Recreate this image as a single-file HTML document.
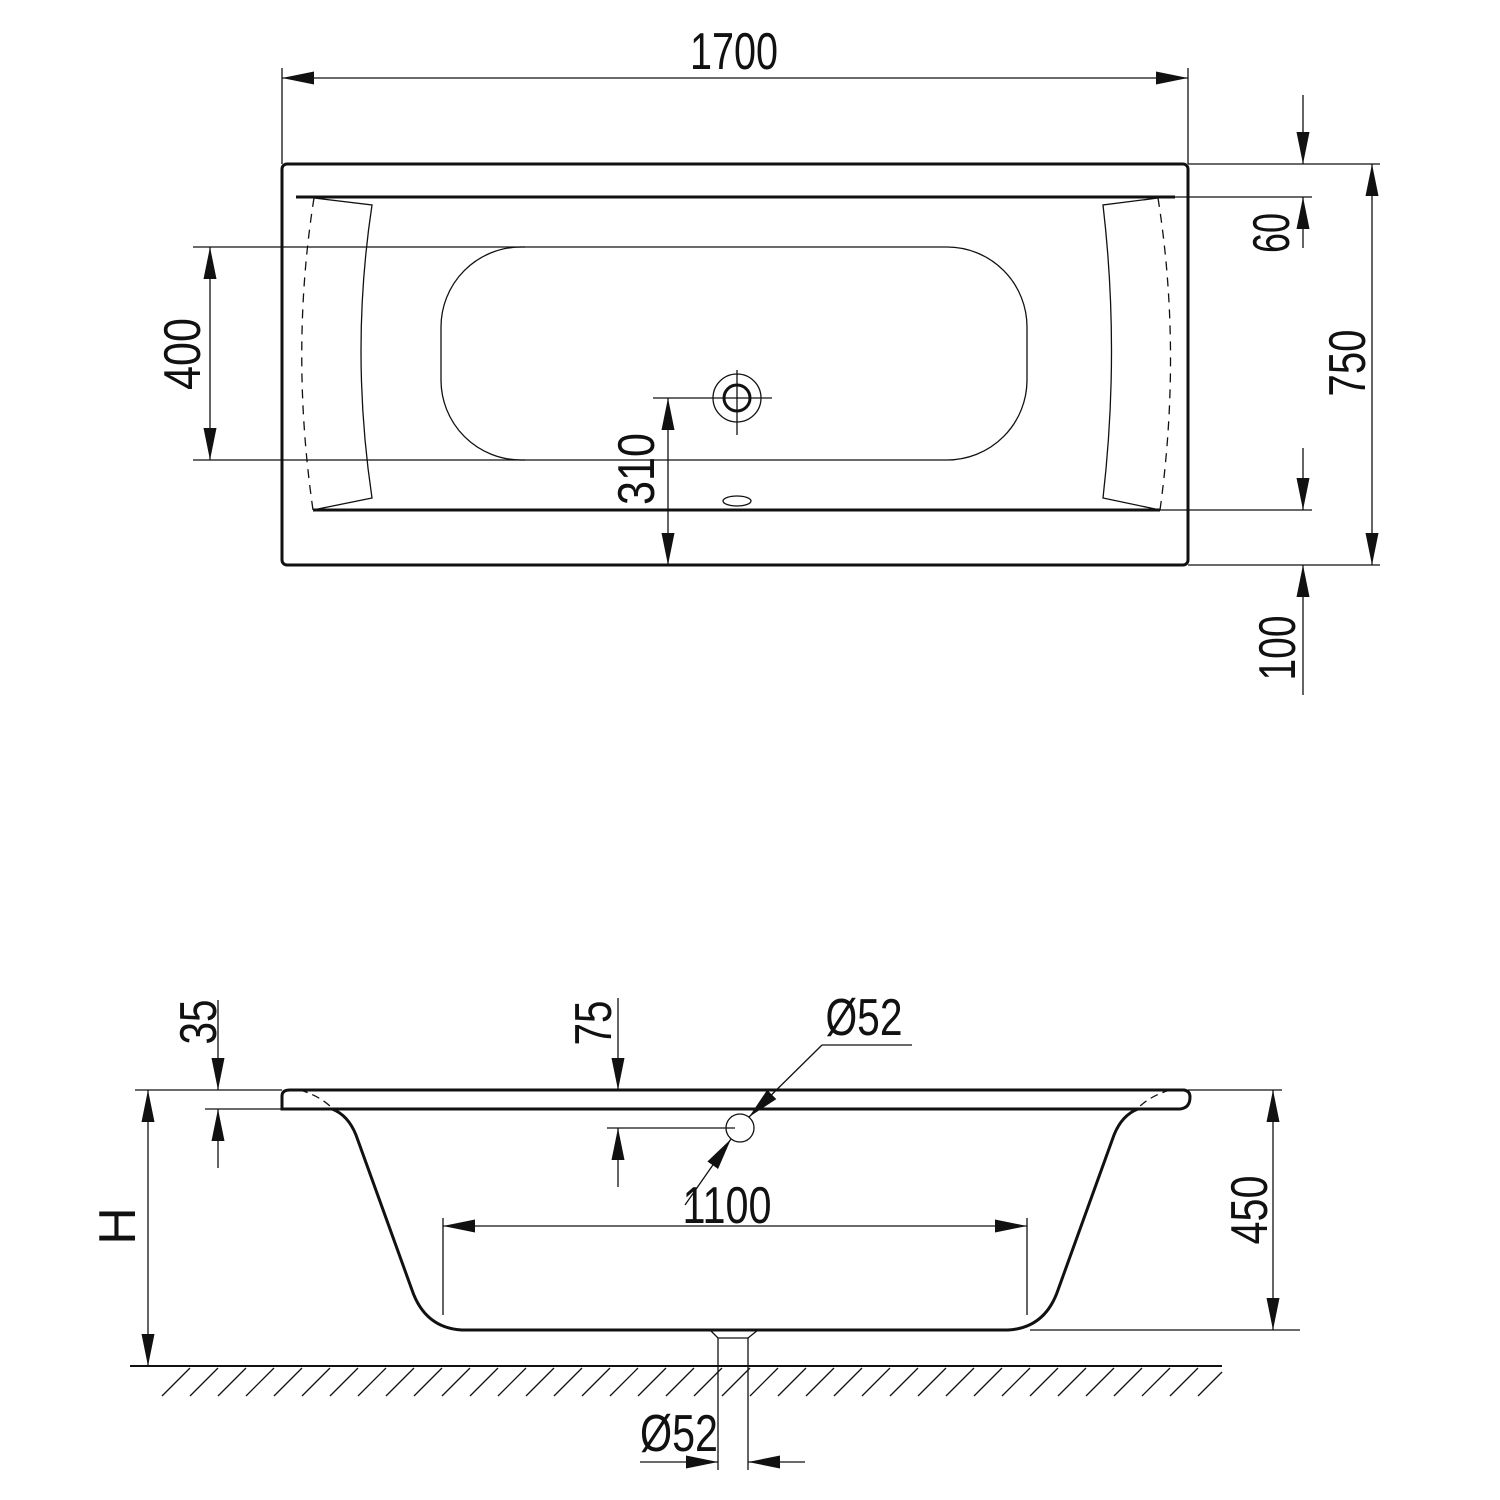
<!DOCTYPE html>
<html><head><meta charset="utf-8"><style>
html,body{margin:0;padding:0;background:#fff;}
svg{display:block}
text{font-family:"Liberation Sans",sans-serif;font-size:52px;fill:#111;text-anchor:middle;dominant-baseline:central}
</style></head><body>
<svg width="1500" height="1500" viewBox="0 0 1500 1500" xmlns="http://www.w3.org/2000/svg">
<defs>
<marker id="a" markerUnits="userSpaceOnUse" markerWidth="34" markerHeight="14" refX="32" refY="6.5" orient="auto" viewBox="0 0 34 13">
<path d="M0,0 L32,6.5 L0,13 Z" fill="#111"/></marker>
</defs>
<g stroke="#111" fill="none" stroke-width="1.3">
<rect x="282" y="164" width="906" height="401" rx="5" stroke-width="3"/>
<line x1="296" y1="197" x2="1175" y2="197" stroke-width="3"/>
<line x1="313" y1="510" x2="1160" y2="510" stroke-width="3"/>
<rect x="441" y="247" width="586" height="213" rx="80"/>
<circle cx="737" cy="398" r="24"/>
<circle cx="737" cy="398" r="13" stroke-width="3"/>
<line x1="737" y1="370" x2="737" y2="435"/>
<line x1="653" y1="398" x2="772" y2="398"/>
<ellipse cx="737" cy="501" rx="14" ry="5"/>
<path d="M314,198 L372,205 Q350,350 372,498 L313,510"/>
<path d="M314,198 Q290,350 313,510" stroke-dasharray="9,7"/>
<path d="M1158,198 L1103,205 Q1120,350 1103,498 L1160,510"/>
<path d="M1158,198 Q1182,350 1160,510" stroke-dasharray="9,7"/>
<line x1="282" y1="68" x2="282" y2="164"/>
<line x1="1188" y1="68" x2="1188" y2="164"/>
<line x1="735" y1="78" x2="282" y2="78" marker-end="url(#a)"/>
<line x1="735" y1="78" x2="1188" y2="78" marker-end="url(#a)"/>
<line x1="1188" y1="164" x2="1380" y2="164"/>
<line x1="1175" y1="197" x2="1312" y2="197"/>
<line x1="1160" y1="510" x2="1312" y2="510"/>
<line x1="1188" y1="565" x2="1380" y2="565"/>
<line x1="1303" y1="95" x2="1303" y2="164" marker-end="url(#a)"/>
<line x1="1303" y1="248" x2="1303" y2="197" marker-end="url(#a)"/>
<line x1="1372" y1="364" x2="1372" y2="164" marker-end="url(#a)"/>
<line x1="1372" y1="364" x2="1372" y2="565" marker-end="url(#a)"/>
<line x1="1303" y1="448" x2="1303" y2="510" marker-end="url(#a)"/>
<line x1="1303" y1="695" x2="1303" y2="565" marker-end="url(#a)"/>
<line x1="193" y1="247" x2="525" y2="247"/>
<line x1="193" y1="460" x2="525" y2="460"/>
<line x1="210" y1="354" x2="210" y2="247" marker-end="url(#a)"/>
<line x1="210" y1="354" x2="210" y2="460" marker-end="url(#a)"/>
<line x1="668" y1="480" x2="668" y2="398" marker-end="url(#a)"/>
<line x1="668" y1="480" x2="668" y2="565" marker-end="url(#a)"/>
<path d="M290,1090 L1184,1090 Q1190,1091 1190,1097 Q1190,1108 1180,1109 L282,1109 L282,1096 Q282,1090 290,1090 Z" stroke-width="3"/>
<path d="M300,1090 Q320,1096 332,1108" stroke-dasharray="8,5"/>
<path d="M1170,1090 Q1150,1096 1138,1108" stroke-dasharray="8,5"/>
<path d="M332,1109 Q348,1115 356,1135 L412,1290 Q425,1328 462,1330 L1008,1330 Q1045,1328 1058,1290 L1114,1135 Q1122,1115 1138,1109" stroke-width="3"/>
<path d="M710,1330 L718,1338 L748,1338 L758,1330"/>
<line x1="718" y1="1338" x2="718" y2="1470"/>
<line x1="748" y1="1338" x2="748" y2="1470"/>
<line x1="130" y1="1366" x2="1222" y2="1366" stroke-width="2"/>
<path d="M190,1368 l-28,28 M218,1368 l-28,28 M246,1368 l-28,28 M274,1368 l-28,28 M302,1368 l-28,28 M330,1368 l-28,28 M358,1368 l-28,28 M386,1368 l-28,28 M414,1368 l-28,28 M442,1368 l-28,28 M470,1368 l-28,28 M498,1368 l-28,28 M526,1368 l-28,28 M554,1368 l-28,28 M582,1368 l-28,28 M610,1368 l-28,28 M638,1368 l-28,28 M666,1368 l-28,28 M694,1368 l-28,28 M722,1368 l-28,28 M750,1368 l-28,28 M778,1368 l-28,28 M806,1368 l-28,28 M834,1368 l-28,28 M862,1368 l-28,28 M890,1368 l-28,28 M918,1368 l-28,28 M946,1368 l-28,28 M974,1368 l-28,28 M1002,1368 l-28,28 M1030,1368 l-28,28 M1058,1368 l-28,28 M1086,1368 l-28,28 M1114,1368 l-28,28 M1142,1368 l-28,28 M1170,1368 l-28,28 M1198,1368 l-28,28 M1222,1372 l-24,24"/>
<line x1="640" y1="1462" x2="718" y2="1462" marker-end="url(#a)"/>
<line x1="805" y1="1462" x2="748" y2="1462" marker-end="url(#a)"/>
<circle cx="740" cy="1128" r="14"/>
<line x1="822" y1="1045" x2="912" y2="1045"/>
<line x1="822" y1="1045" x2="749" y2="1117" marker-end="url(#a)"/>
<line x1="685" y1="1205" x2="731" y2="1139" marker-end="url(#a)"/>
<line x1="607" y1="1128" x2="735" y2="1128"/>
<line x1="618" y1="998" x2="618" y2="1090" marker-end="url(#a)"/>
<line x1="618" y1="1187" x2="618" y2="1128" marker-end="url(#a)"/>
<line x1="135" y1="1090" x2="282" y2="1090"/>
<line x1="205" y1="1109" x2="282" y2="1109"/>
<line x1="218" y1="1000" x2="218" y2="1090" marker-end="url(#a)"/>
<line x1="218" y1="1168" x2="218" y2="1109" marker-end="url(#a)"/>
<line x1="148" y1="1228" x2="148" y2="1090" marker-end="url(#a)"/>
<line x1="148" y1="1228" x2="148" y2="1366" marker-end="url(#a)"/>
<line x1="1188" y1="1090" x2="1282" y2="1090"/>
<line x1="1030" y1="1330" x2="1300" y2="1330"/>
<line x1="1273" y1="1210" x2="1273" y2="1090" marker-end="url(#a)"/>
<line x1="1273" y1="1210" x2="1273" y2="1330" marker-end="url(#a)"/>
<line x1="443" y1="1218" x2="443" y2="1315"/>
<line x1="1027" y1="1218" x2="1027" y2="1315"/>
<line x1="735" y1="1226" x2="443" y2="1226" marker-end="url(#a)"/>
<line x1="735" y1="1226" x2="1027" y2="1226" marker-end="url(#a)"/>
</g>
<text x="734" y="52" textLength="88" lengthAdjust="spacingAndGlyphs">1700</text>
<text transform="translate(1272,233) rotate(-90)" textLength="40" lengthAdjust="spacingAndGlyphs">60</text>
<text transform="translate(1348,363) rotate(-90)" textLength="67" lengthAdjust="spacingAndGlyphs">750</text>
<text transform="translate(1278,648) rotate(-90)" textLength="65" lengthAdjust="spacingAndGlyphs">100</text>
<text transform="translate(183,354) rotate(-90)" textLength="72" lengthAdjust="spacingAndGlyphs">400</text>
<text transform="translate(637,469) rotate(-90)" textLength="72" lengthAdjust="spacingAndGlyphs">310</text>
<text x="864" y="1018" textLength="77" lengthAdjust="spacingAndGlyphs">Ø52</text>
<text transform="translate(594,1023) rotate(-90)" textLength="45" lengthAdjust="spacingAndGlyphs">75</text>
<text transform="translate(199,1022) rotate(-90)" textLength="45" lengthAdjust="spacingAndGlyphs">35</text>
<text transform="translate(118,1226) rotate(-90)">H</text>
<text transform="translate(1250,1210) rotate(-90)" textLength="69" lengthAdjust="spacingAndGlyphs">450</text>
<text x="727" y="1206" textLength="89" lengthAdjust="spacingAndGlyphs">1100</text>
<text x="679" y="1434" textLength="78" lengthAdjust="spacingAndGlyphs">Ø52</text>
</svg>
</body></html>
